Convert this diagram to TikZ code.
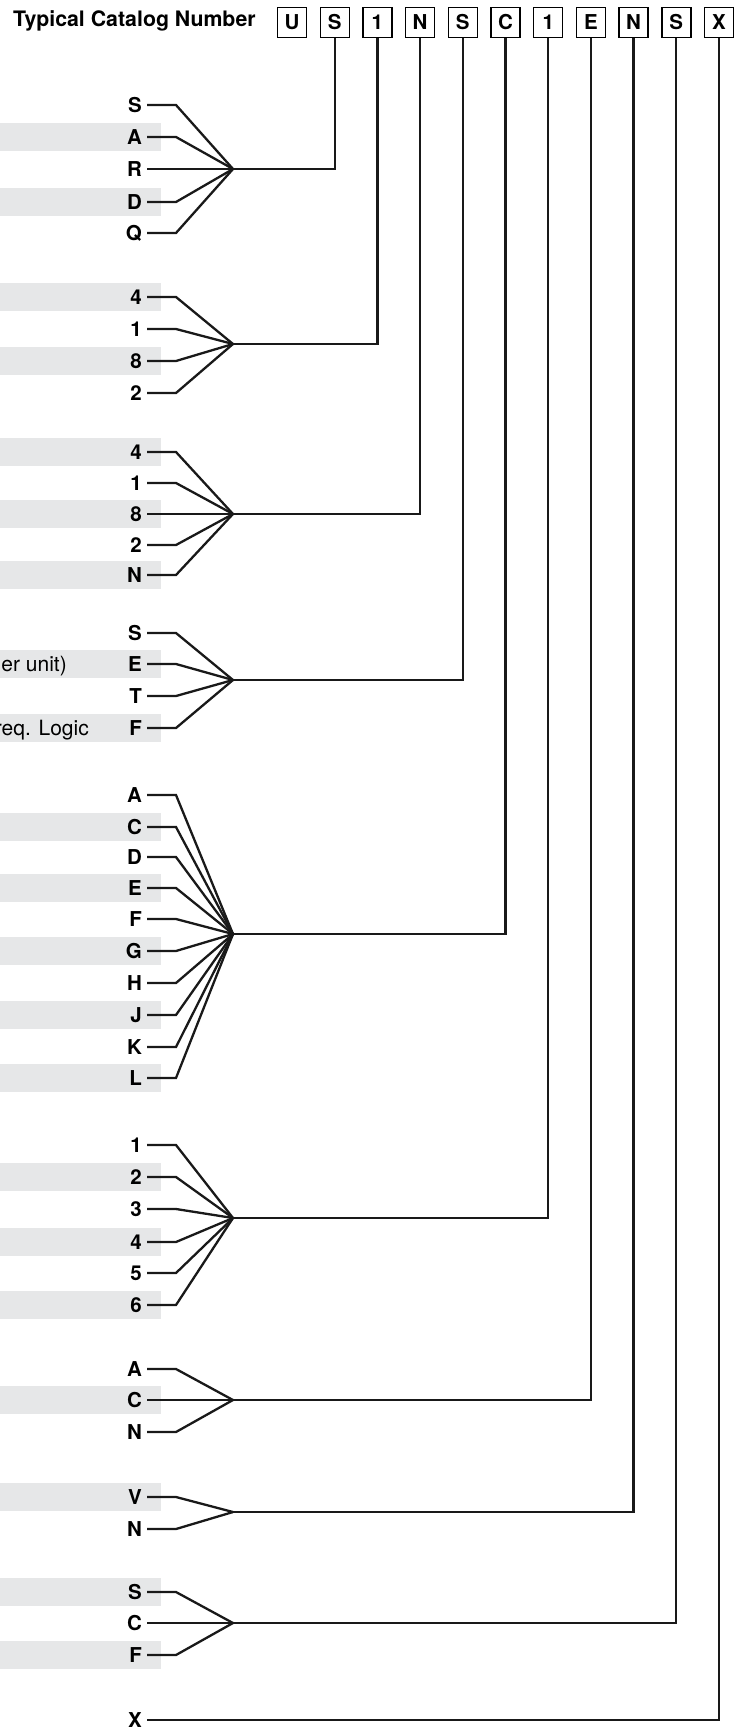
\documentclass[tikz,border=0pt]{standalone}
\usepackage{fontspec}
\setmainfont{TeX Gyre Heros}
\definecolor{bandgray}{HTML}{E6E7E8}
\tikzset{
  band/.style={fill=bandgray},
  conn/.style={line width=2.3pt, line join=miter, black!90},
  lab/.style={anchor=east, inner sep=0pt, font=\bfseries\fontsize{20.5}{24}\selectfont, text height=14.5pt, text depth=0pt},
  desc/.style={anchor=east, inner sep=0pt, font=\fontsize{21}{24}\selectfont, text height=14.5pt, text depth=0pt},
  cbox/.style={draw, line width=1.4pt, minimum width=29pt, minimum height=30pt, inner sep=0pt, font=\bfseries\fontsize{20.5}{24}\selectfont},
  ttl/.style={anchor=base west, inner sep=0pt, font=\bfseries\fontsize{21.3}{25}\selectfont}
}
\newcommand\catgroup[4]{%
  \coordinate (#1c) at (233,#2);
  \foreach \lbl/\yy/\bnd [count=\i] in {#4} {
    \ifnum\bnd=1 \fill[band] (0,\yy-14) rectangle (161,\yy+14);\fi
    \node[lab] (#1r\i) at (142,\yy) {\lbl};
    \draw[conn] (#1r\i.east) ++(5,0) -- ++(29,0) -- (#1c);
  }
  \draw[conn] (#1c) -- (#1c -| #3.south) -- (#3.south);
}
\begin{document}
\begin{tikzpicture}[x=1pt, y=-1pt]
\useasboundingbox (0,0) rectangle (744,1729);
\node[ttl] (title) at (13,27) {Typical Catalog Number};
\foreach \ch/\k in {U/1,S/2,1/3,N/4,S/5,C/6,1/7,E/8,N/9,S/10,X/11} {
  \node[cbox] (b\k) at ({292+42.7*(\k-1)},22.5) {\ch};
}
\catgroup{ga}{169}{b2}{S/105/0, A/137/1, R/169/0, D/202/1, Q/233/0}
\catgroup{gb}{344}{b3}{4/297/1, 1/329/0, 8/361/1, 2/393/0}
\catgroup{gc}{514}{b4}{4/452/1, 1/483/0, 8/514/1, 2/545/0, N/575/1}
\catgroup{gd}{680}{b5}{S/633/0, E/664/1, T/696/0, F/728/1}
\catgroup{ge}{934}{b6}{A/795/0, C/827/1, D/857/0, E/888/1, F/919/0, G/951/1, H/983/0, J/1015/1, K/1047/0, L/1078/1}
\catgroup{gf}{1218}{b7}{1/1145/0, 2/1177/1, 3/1209/0, 4/1242/1, 5/1273/0, 6/1305/1}
\catgroup{gg}{1400}{b8}{A/1369/0, C/1400/1, N/1432/0}
\catgroup{gh}{1512}{b9}{V/1497/1, N/1529/0}
\catgroup{gi}{1623}{b10}{S/1592/1, C/1623/0, F/1655/1}
\node[desc] (t1) at (67,664) {er unit)};
\node[desc] (t2) at (89,728) {req. Logic};
\node[lab] (xr) at (142,1720) {X};
\draw[conn] (xr.east) ++(5,0) -- (xr -| b11.south) -- (b11.south);
\end{tikzpicture}
\end{document}
